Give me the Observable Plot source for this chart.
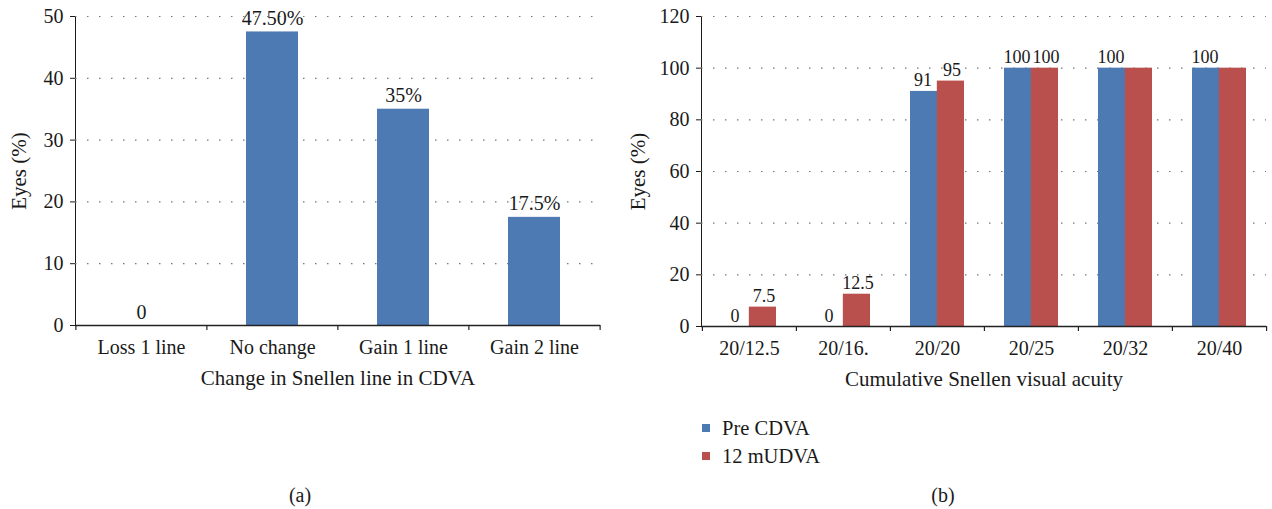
<!DOCTYPE html>
<html>
<head>
<meta charset="utf-8">
<script src="https://cdn.jsdelivr.net/npm/d3@7"></script>
<script src="https://cdn.jsdelivr.net/npm/@observablehq/plot@0.6"></script>
<style>
  html, body { margin: 0; padding: 0; background: #fff; }
  #page { position: relative; width: 1272px; height: 509px; font-family: "Liberation Serif", "DejaVu Serif", serif; color: #1a1a1a; }
  .panel { position: absolute; top: 0; }
  .lg { position: absolute; font-size: 20.5px; line-height: 1; white-space: nowrap; }
  .sw { position: absolute; width: 8px; height: 8px; }
  .cap { position: absolute; font-size: 20px; transform: translate(-50%, -50%); }
</style>
</head>
<body>
<div id="page">
  <div id="a" class="panel" style="left:0px"></div>
  <div id="b" class="panel" style="left:620px"></div>
  <div class="sw" style="left:702px; top:424px; background:#4E7AB4"></div>
  <div class="lg" style="left:722px; top:418px">Pre CDVA</div>
  <div class="sw" style="left:702px; top:452px; background:#B9504D"></div>
  <div class="lg" style="left:722px; top:446px">12 mUDVA</div>
  <div class="cap" style="left:300px; top:495px">(a)</div>
  <div class="cap" style="left:943px; top:495px">(b)</div>
</div>
<script>
// ---- Panel (a) data ----
const categoriesA = ["Loss 1 line", "No change", "Gain 1 line", "Gain 2 line"];
const valuesA = [0, 47.5, 35, 17.5];
const labelsA = ["0", "47.50%", "35%", "17.5%"];
const ticksA = [0, 10, 20, 30, 40, 50];
const xTitleA = "Change in Snellen line in CDVA";
const yTitle = "Eyes (%)";

// ---- Panel (b) data ----
const categoriesB = ["20/12.5", "20/16.", "20/20", "20/25", "20/32", "20/40"];
const preCDVA = [0, 0, 91, 100, 100, 100];
const udva12 = [7.5, 12.5, 95, 100, 100, 100];
const labelsPre = ["0", "0", "91", "100", "100", "100"];
const labelsUdva = ["7.5", "12.5", "95", "100", "", ""];
const ticksB = [0, 20, 40, 60, 80, 100, 120];
const xTitleB = "Cumulative Snellen visual acuity";
const seriesNames = ["Pre CDVA", "12 mUDVA"];

const BLUE = "#4E7AB4", RED = "#B9504D";
const FONT = "'Liberation Serif', 'DejaVu Serif', serif";

const dataA = categoriesA.map((c, i) => ({cat: c, v: valuesA[i], label: labelsA[i]}));
const dataPre = categoriesB.map((c, i) => ({cat: c, v: preCDVA[i], label: labelsPre[i], s: seriesNames[0]}));
const dataUd = categoriesB.map((c, i) => ({cat: c, v: udva12[i], label: labelsUdva[i], s: seriesNames[1]}));

function panel({width, height, mL, mR, mT, mB, cats, yMax, yTicks, padIn, marks, xTitle, yTitleDx}) {
  const n = cats.length;
  const step = (width - mL - mR) / n;
  const boundaryTicks = [
    Plot.ruleX(cats, {x: d => d, y1: 0, y2: 0, dx: -step / 2, insetBottom: -5, stroke: "#222", strokeWidth: 1.2}),
    Plot.ruleX(cats.slice(-1), {x: d => d, y1: 0, y2: 0, dx: step / 2, insetBottom: -5, stroke: "#222", strokeWidth: 1.2})
  ];
  return Plot.plot({
    width, height,
    marginLeft: mL, marginRight: mR, marginTop: mT, marginBottom: mB,
    style: {fontFamily: FONT, fontSize: "20px", color: "#1a1a1a", background: "transparent", overflow: "visible"},
    x: {domain: cats, paddingInner: padIn, paddingOuter: padIn / 2, tickSize: 0, tickPadding: 14, label: null},
    y: {domain: [0, yMax], ticks: yTicks, tickSize: 5, tickPadding: 7, label: null, line: true},
    marks: [
      Plot.ruleY(yTicks.filter(t => t > 0), {y: d => d, stroke: "#777", strokeWidth: 1.2, strokeDasharray: "1.5,10.5"}),
      ...marks(step),
      Plot.ruleY([0], {stroke: "#222", strokeWidth: 1.3}),
      ...boundaryTicks,
      Plot.text([xTitle], {frameAnchor: "bottom", textAnchor: "middle", lineAnchor: "middle", dy: 53, text: d => d, fontSize: 21}),
      Plot.text([yTitle], {frameAnchor: "left", textAnchor: "middle", lineAnchor: "middle", dx: yTitleDx, rotate: -90, text: d => d, fontSize: 21})
    ]
  });
}

const chartA = panel({
  width: 620, height: 400, mL: 75, mR: 20, mT: 16, mB: 75,
  cats: categoriesA, yMax: 50, yTicks: ticksA, padIn: 0.6,
  xTitle: xTitleA, yTitleDx: -56,
  marks: (step) => [
    Plot.barY(dataA, {x: "cat", y: "v", fill: BLUE}),
    Plot.text(dataA, {x: "cat", y: "v", text: "label", lineAnchor: "bottom", dy: -7})
  ]
});
document.getElementById("a").appendChild(chartA);

const padB = 0.43;
const chartB = panel({
  width: 652, height: 400, mL: 81, mR: 6, mT: 16, mB: 74,
  cats: categoriesB, yMax: 120, yTicks: ticksB, padIn: padB,
  xTitle: xTitleB, yTitleDx: -63,
  marks: (step) => {
    const bw = step * (1 - padB);
    return [
      Plot.barY(dataPre, {x: "cat", y: "v", fill: BLUE, insetRight: bw / 2}),
      Plot.barY(dataUd, {x: "cat", y: "v", fill: RED, insetLeft: bw / 2}),
      Plot.text(dataPre, {x: "cat", y: "v", text: "label", dx: -bw / 4 - 1, lineAnchor: "bottom", dy: -5, fontSize: 18}),
      Plot.text(dataUd, {x: "cat", y: "v", text: "label", dx: bw / 4 + 1, lineAnchor: "bottom", dy: -5, fontSize: 18})
    ];
  }
});
document.getElementById("b").appendChild(chartB);
</script>
</body>
</html>
